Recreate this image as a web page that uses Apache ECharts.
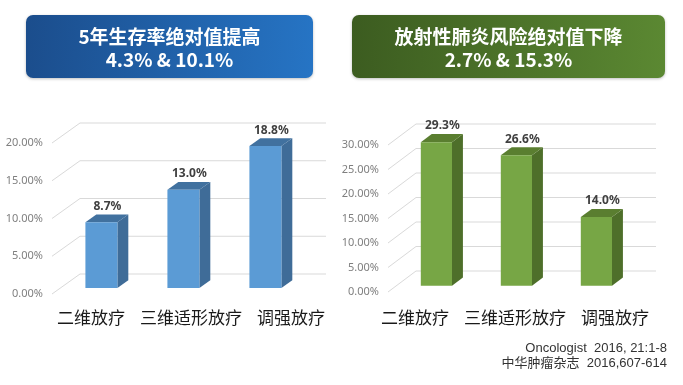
<!DOCTYPE html>
<html>
<head>
<meta charset="utf-8">
<script src="https://cdn.jsdelivr.net/npm/echarts@6/dist/echarts.min.js"></script>
<style>
html,body{margin:0;padding:0;background:#fff;}
#chart{width:683px;height:385px;}
</style>
</head>
<body>
<div id="chart"></div>
<script>
// ---- data ----
const categories = ['二维放疗', '三维适形放疗', '调强放疗'];
const survivalValues = [8.7, 13.0, 18.8];
const pneumonitisValues = [29.3, 26.6, 14.0];
const leftTicks = [0, 5, 10, 15, 20];
const rightTicks = [0, 5, 10, 15, 20, 25, 30];
const leftTitle = ['5年生存率绝对值提高', '4.3% & 10.1%'];
const rightTitle = ['放射性肺炎风险绝对值下降', '2.7% & 15.3%'];
const sources = ['Oncologist  2016, 21:1-8', '中华肿瘤杂志  2016,607-614'];

const CJK = '"Noto Sans CJK SC", "Noto Sans", sans-serif';

function gridRender(BX, BY) {
  return function (params, api) {
    const v = api.value(1);
    const p0 = api.coord([0, v]);
    const p2 = api.coord([2, v]);
    const band = api.size([1, 0])[0];
    const l = p0[0] - band / 2, r = p2[0] + band / 2, y = p0[1];
    return {
      type: 'polyline',
      shape: { points: [[l, y], [l + BX, y + BY], [r + BX, y + BY]] },
      style: { stroke: '#d9d9d9', lineWidth: 1, fill: null }
    };
  };
}

function barRender(BX, BY, colors) {
  const f1 = 0.3, f2 = 0.69, d = f2 - f1;
  return function (params, api) {
    const i = api.value(0), v = api.value(1);
    const base = api.coord([i, 0]);
    const top = api.coord([i, v]);
    const band = api.size([1, 0])[0];
    const w = band * 0.39;
    const x0 = base[0] - w / 2 + f1 * BX, x1 = x0 + w;
    const yb = base[1] + f1 * BY, yt = top[1] + f1 * BY;
    const dx = d * BX, dy = d * BY;
    return {
      type: 'group',
      children: [
        { type: 'polygon', shape: { points: [[x1, yt], [x1, yb], [x1 + dx, yb + dy], [x1 + dx, yt + dy]] },
          style: { fill: colors.side } },
        { type: 'polygon', shape: { points: [[x0, yt], [x1, yt], [x1 + dx, yt + dy], [x0 + dx, yt + dy]] },
          style: { fill: colors.top } },
        { type: 'rect', shape: { x: x0, y: yt, width: w, height: yb - yt },
          style: { fill: colors.front } },
        { type: 'text', style: {
            text: v.toFixed(1) + '%', x: (x0 + x1 + dx) / 2 + 0.5, y: yt + dy - 2,
            textAlign: 'center', textVerticalAlign: 'bottom',
            fill: '#404040', font: 'bold 12px "Noto Sans", sans-serif' } }
      ]
    };
  };
}

const blue = { front: '#5b9bd5', side: '#3f6c98', top: '#41719f' };
const green = { front: '#77a645', side: '#4e6f2a', top: '#5a7e30' };

function valueAxis(gridIndex, max) {
  return {
    type: 'value', gridIndex, min: 0, max, interval: 5,
    axisLine: { show: false }, axisTick: { show: false }, splitLine: { show: false },
    axisLabel: { color: '#7f7f7f', fontSize: 11, margin: 9, fontFamily: '"Noto Sans", sans-serif',
      formatter: v => v.toFixed(2) + '%' }
  };
}
function hiddenCat(gridIndex) {
  return { type: 'category', gridIndex, data: categories, show: false };
}
function labelCat(gridIndex) {
  return {
    type: 'category', gridIndex, data: categories,
    axisLine: { show: false }, axisTick: { show: false },
    axisLabel: { color: '#1a1a1a', fontSize: 17, margin: 8, fontFamily: CJK, interval: 0 }
  };
}
function hiddenVal(gridIndex) {
  return { type: 'value', gridIndex, show: false, splitLine: { show: false } };
}

function header(x, w, title, c1, c2) {
  return {
    type: 'group',
    children: [
      { type: 'rect', shape: { x, y: 15, width: w, height: 63, r: 7 },
        style: { fill: new echarts.graphic.LinearGradient(0, 0, 1, 0.3, [
          { offset: 0, color: c1 }, { offset: 1, color: c2 }]),
          shadowBlur: 3, shadowColor: 'rgba(0,0,0,0.25)', shadowOffsetY: 1 } },
      { type: 'text', style: { text: title[0], x: x + w / 2, y: 37, textAlign: 'center',
          textVerticalAlign: 'middle', fill: '#ffffff', font: 'bold 19px ' + CJK } },
      { type: 'text', style: { text: title[1], x: x + w / 2, y: 60, textAlign: 'center',
          textVerticalAlign: 'middle', fill: '#ffffff', font: 'bold 19px ' + CJK } }
    ]
  };
}

const chart = echarts.init(document.getElementById('chart'), null, { renderer: 'canvas' });
chart.setOption({
  animation: false,
  backgroundColor: '#ffffff',
  grid: [
    { left: 52, width: 246, top: 143, height: 151 },
    { left: 388, width: 240, top: 145, height: 147 },
    { left: 41, width: 300, top: 300, height: 1 },
    { left: 365, width: 300, top: 300, height: 1 }
  ],
  xAxis: [hiddenCat(0), hiddenCat(1), labelCat(2), labelCat(3)],
  yAxis: [valueAxis(0, 20), valueAxis(1, 30), hiddenVal(2), hiddenVal(3)],
  series: [
    { type: 'custom', xAxisIndex: 0, yAxisIndex: 0, clip: false, z: 1,
      renderItem: gridRender(28, -20), data: leftTicks.map(t => [0, t]) },
    { type: 'custom', xAxisIndex: 1, yAxisIndex: 1, clip: false, z: 1,
      renderItem: gridRender(28, -21), data: rightTicks.map(t => [0, t]) },
    { type: 'custom', xAxisIndex: 0, yAxisIndex: 0, clip: false, z: 2,
      renderItem: barRender(28, -20, blue), data: survivalValues.map((v, i) => [i, v]) },
    { type: 'custom', xAxisIndex: 1, yAxisIndex: 1, clip: false, z: 2,
      renderItem: barRender(28, -21, green), data: pneumonitisValues.map((v, i) => [i, v]) }
  ],
  graphic: [
    header(26, 287, leftTitle, '#1b4d8c', '#2674c4'),
    header(352, 313, rightTitle, '#3c5c20', '#5b8832'),
    { type: 'text', style: { text: sources[0], x: 667, y: 348, textAlign: 'right',
        textVerticalAlign: 'middle', fill: '#333333', font: '13px "Liberation Sans", Arial, sans-serif' } },
    { type: 'text', style: { text: sources[1], x: 667, y: 363, textAlign: 'right',
        textVerticalAlign: 'middle', fill: '#333333', font: '13px "Liberation Sans", "Noto Sans CJK SC", sans-serif' } }
  ]
});
</script>
</body>
</html>
